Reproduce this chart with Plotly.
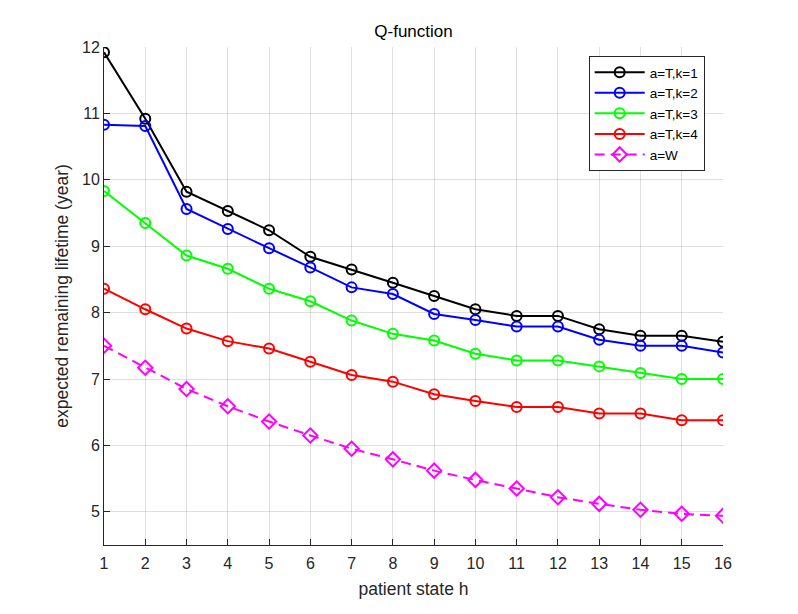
import plotly.graph_objects as go

# patient states
states = list(range(1, 17))

# expected remaining lifetime (year) for each action / k
q_t_k1 = [11.92, 10.92, 9.82, 9.53, 9.24, 8.84, 8.65, 8.45, 8.25, 8.05, 7.95, 7.95, 7.75, 7.65, 7.65, 7.56]
q_t_k2 = [10.83, 10.81, 9.56, 9.26, 8.97, 8.68, 8.38, 8.28, 7.98, 7.89, 7.79, 7.79, 7.59, 7.50, 7.50, 7.40]
q_t_k3 = [9.83, 9.35, 8.86, 8.66, 8.36, 8.17, 7.88, 7.68, 7.58, 7.38, 7.28, 7.28, 7.19, 7.09, 7.00, 7.00]
q_t_k4 = [8.36, 8.05, 7.76, 7.57, 7.46, 7.26, 7.06, 6.96, 6.77, 6.67, 6.58, 6.58, 6.48, 6.48, 6.38, 6.38]
q_w = [7.50, 7.17, 6.85, 6.59, 6.36, 6.15, 5.95, 5.79, 5.62, 5.48, 5.35, 5.22, 5.12, 5.03, 4.97, 4.94]

names = ['a=T,k=1', 'a=T,k=2', 'a=T,k=3', 'a=T,k=4']
colors = ['#000000', '#0000ff', '#00ff00', '#ff0000']

FONT = 'Liberation Sans, Arial, sans-serif'
AX = '#262626'
GRID = 'rgba(38,38,38,0.15)'

fig = go.Figure()

for vals, name, color in zip([q_t_k1, q_t_k2, q_t_k3, q_t_k4], names, colors):
    fig.add_trace(go.Scatter(
        x=states, y=vals, mode='lines+markers', name=name,
        line=dict(color=color, width=2),
        marker=dict(symbol='circle-open', size=10, color=color, line=dict(width=2))
    ))

fig.add_trace(go.Scatter(
    x=states, y=q_w, mode='lines+markers', name='a=W',
    line=dict(color='#ff00ff', width=2, dash='10px,6px'),
    marker=dict(symbol='diamond-open', size=11, color='#ff00ff', line=dict(width=2))
))

# page body adds an 8px offset, so margins are shifted to compensate
fig.update_layout(
    width=798, height=614,
    margin=dict(l=96, r=83, t=39, b=77),
    paper_bgcolor='white', plot_bgcolor='white',
    font=dict(family=FONT, color=AX, size=16),
    title=dict(text='Q-function', x=405.5 / 798, xanchor='center',
               y=1 - 23 / 614, yanchor='middle', yref='container',
               font=dict(size=17, color='#000000')),
    legend=dict(x=0.783, y=0.982, xanchor='left', yanchor='top',
                bgcolor='white', bordercolor='#262626', borderwidth=1,
                itemwidth=50,
                font=dict(size=13.5, color='#000000'), tracegroupgap=0),
    showlegend=True,
)

fig.update_xaxes(
    range=[1, 16], tickmode='linear', tick0=1, dtick=1,
    showgrid=True, gridcolor=GRID, gridwidth=1,
    showline=True, linecolor=AX, linewidth=1, mirror=False,
    ticks='inside', ticklen=6, tickcolor=AX, ticklabelstandoff=4,
    tickfont=dict(size=16, color=AX), zeroline=False, automargin=False,
    title=dict(text='patient state h', font=dict(size=17.5, color=AX), standoff=11),
)
fig.update_yaxes(
    range=[4.5, 12], tickmode='linear', tick0=5, dtick=1,
    showgrid=True, gridcolor=GRID, gridwidth=1,
    showline=True, linecolor=AX, linewidth=1, mirror=False,
    ticks='inside', ticklen=6, tickcolor=AX,
    tickfont=dict(size=16, color=AX), zeroline=False, automargin=False,
    title=dict(text='expected remaining lifetime (year)', font=dict(size=17.5, color=AX), standoff=8),
)

fig.write_html('out.html')
